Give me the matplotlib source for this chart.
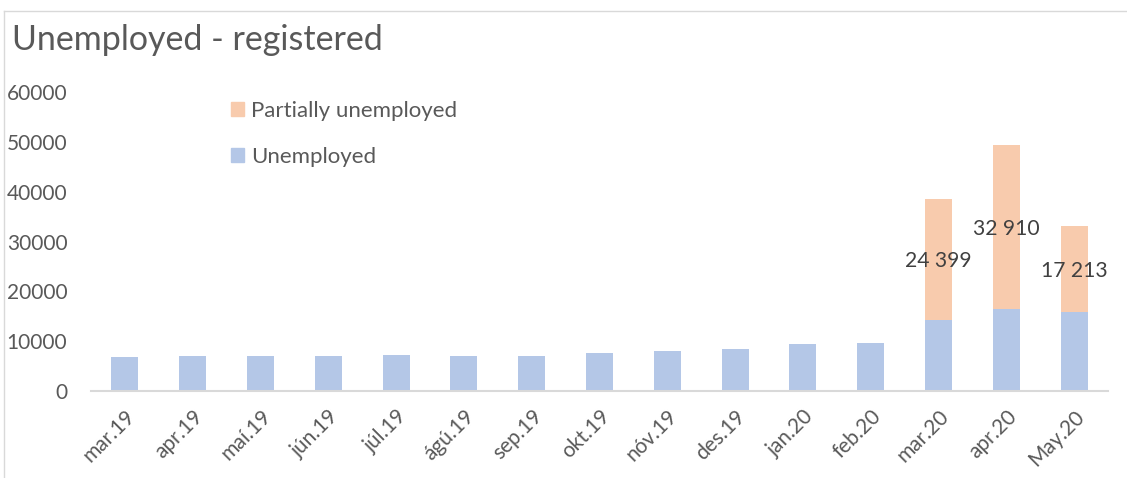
import numpy as np
import matplotlib.pyplot as plt
from matplotlib.lines import Line2D
from matplotlib.patches import Patch

months = ["mar.19", "apr.19", "maí.19", "jún.19", "júl.19", "ágú.19", "sep.19",
          "okt.19", "nóv.19", "des.19", "jan.20", "feb.20", "mar.20", "apr.20", "May.20"]
unemployed = [6800, 7050, 7000, 7050, 7130, 7000, 6930,
              7530, 8070, 8400, 9470, 9670, 14200, 16400, 15900]
partially = [0, 0, 0, 0, 0, 0, 0, 0, 0, 0, 0, 0, 24399, 32910, 17213]

BLUE = "#B4C7E7"
ORANGE = "#F8CBAD"
TEXT = "#595959"

plt.rcParams["font.family"] = ["Lato", "DejaVu Sans"]

fig = plt.figure(figsize=(11.27, 4.78), dpi=100)
ax = fig.add_axes([91 / 1127, 1 - 391 / 478, 1017 / 1127, 299 / 478])

x = np.arange(len(months))
ax.bar(x, unemployed, width=0.4, color=BLUE, label="Unemployed")
ax.bar(x, partially, width=0.4, bottom=unemployed, color=ORANGE,
       label="Partially unemployed")

# labels only where there are partially unemployed
for xi, u, p in zip(x, unemployed, partially):
    if p > 0:
        ax.text(xi, u + p / 2, f"{p:,}".replace(",", " "), ha="center",
                va="center_baseline", fontsize=15.2, color="#404040")

ax.set_xlim(-0.5, len(months) - 0.5)
ax.set_ylim(0, 60000)
ax.set_yticks(np.arange(0, 60001, 10000))
ax.set_xticks(x)
ax.set_xticklabels(months, rotation=45, ha="right", rotation_mode="anchor")
ax.tick_params(axis="both", length=0, labelsize=15, labelcolor=TEXT)
ax.tick_params(axis="x", pad=11)
ax.tick_params(axis="y", pad=17)

for side in ["top", "right", "left"]:
    ax.spines[side].set_visible(False)
ax.spines["bottom"].set_color("#D9D9D9")
ax.spines["bottom"].set_linewidth(1.5)

handles = [Patch(color=ORANGE), Patch(color=BLUE)]
ax.legend(handles, ["Partially unemployed", "Unemployed"], loc="upper left",
          bbox_to_anchor=(120 / 1017, 1 + 11 / 299), frameon=False, fontsize=16,
          labelcolor=TEXT, handlelength=0.6, handleheight=0.6, handletextpad=0.3,
          labelspacing=1.15)

fig.text(12 / 1127, 1 - 40 / 478, "Unemployed - registered", fontsize=24.5,
         color=TEXT, va="center", ha="left")

# chart frame (left and top edges visible)
fig.add_artist(Line2D([4 / 1127, 4 / 1127], [0, 1 - 11 / 478], color="#D9D9D9", lw=1))
fig.add_artist(Line2D([4 / 1127, 1], [1 - 11 / 478, 1 - 11 / 478], color="#D9D9D9", lw=1))

fig.savefig("out.png", dpi=100)
